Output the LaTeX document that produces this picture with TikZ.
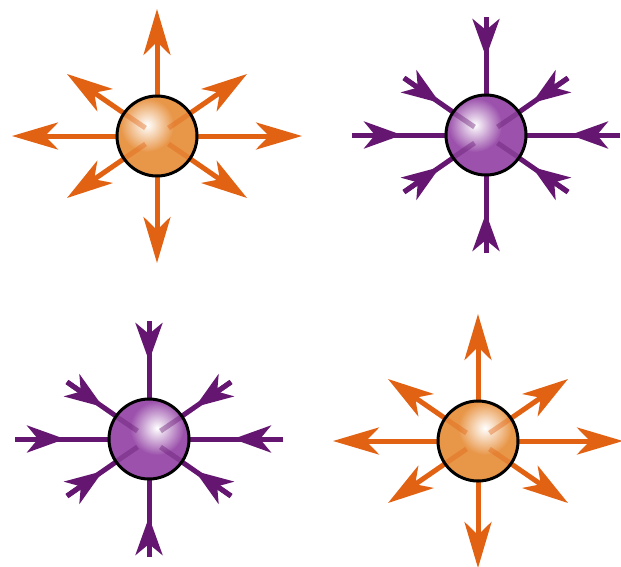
\documentclass[tikz,border=0pt]{standalone}
\usetikzlibrary{arrows.meta,calc}
\definecolor{orl}{RGB}{225,98,18}
\definecolor{ors}{RGB}{232,150,72}
\definecolor{pul}{RGB}{100,22,112}
\definecolor{pus}{RGB}{156,82,172}
\tikzset{
  oline/.style={draw=orl, line width=5pt, -{Stealth[length=46pt,width=27pt,inset=13pt]}},
  pline/.style={draw=pul, line width=5pt},
  parrow/.style={draw=pul, fill=pul, line width=5pt, -{Stealth[length=38pt,width=27pt,inset=11pt]}},
  rim/.style={draw=black, line width=3pt},
}
\newcommand\spherebody[5]{% #1 name, #2 base colour, #3 line colour, #4 hx, #5 hy
  \begin{scope}
    \clip (#1) circle (40pt);
    \fill[#2] (#1) circle (40pt);
    \shade[inner color=white, outer color=#2] ($(#1)+(#4,#5)$) circle (27pt);
  \end{scope}
  \foreach \sx/\sy in {1/1,1/-1,-1/1,-1/-1}{
    \draw[#3, line width=5pt, opacity=0.4] ($(#1)+(11.5*\sx,8*\sy)$) -- ($(#1)+(33*\sx,22.6*\sy)$);
  }
  \draw[rim] (#1) circle (40pt);
}
\begin{document}
\begin{tikzpicture}[x=1pt,y=-1pt]
\useasboundingbox (0,0) rectangle (621,566);
% centres
\coordinate (A) at (157,136);
\coordinate (B) at (486,135);
\coordinate (C) at (149,439);
\coordinate (D) at (478,441);
% outward (orange) field lines
\foreach \c in {A,D}{
  \foreach \i/\dx/\dy in {1/145/0,2/-145/0,3/0/127,4/0/-127,5/90/62,6/-90/62,7/90/-62,8/-90/-62}{
    \coordinate (\c-e\i) at ($(\c)+(\dx,\dy)$);
    \draw[oline] (\c) -- (\c-e\i);
  }
}
% inward (purple) field lines
\foreach \c in {B,C}{
  \foreach \i/\ex/\ey/\tx/\ty in {1/134/0/84/0,2/-134/0/-84/0,3/0/118/0/78,4/0/-118/0/-78,5/82/57/46/32,6/-82/57/-46/32,7/82/-57/46/-32,8/-82/-57/-46/-32}{
    \coordinate (\c-e\i) at ($(\c)+(\ex,\ey)$);
    \coordinate (\c-t\i) at ($(\c)+(\tx,\ty)$);
    \draw[pline] (\c-e\i) -- (\c);
    \draw[parrow] (\c-e\i) -- (\c-t\i);
  }
}
% spheres
\spherebody{A}{ors}{orl}{-10}{-11}
\spherebody{B}{pus}{pul}{-11}{-10}
\spherebody{C}{pus}{pul}{8}{-11}
\spherebody{D}{ors}{orl}{7}{-13}
\end{tikzpicture}
\end{document}
